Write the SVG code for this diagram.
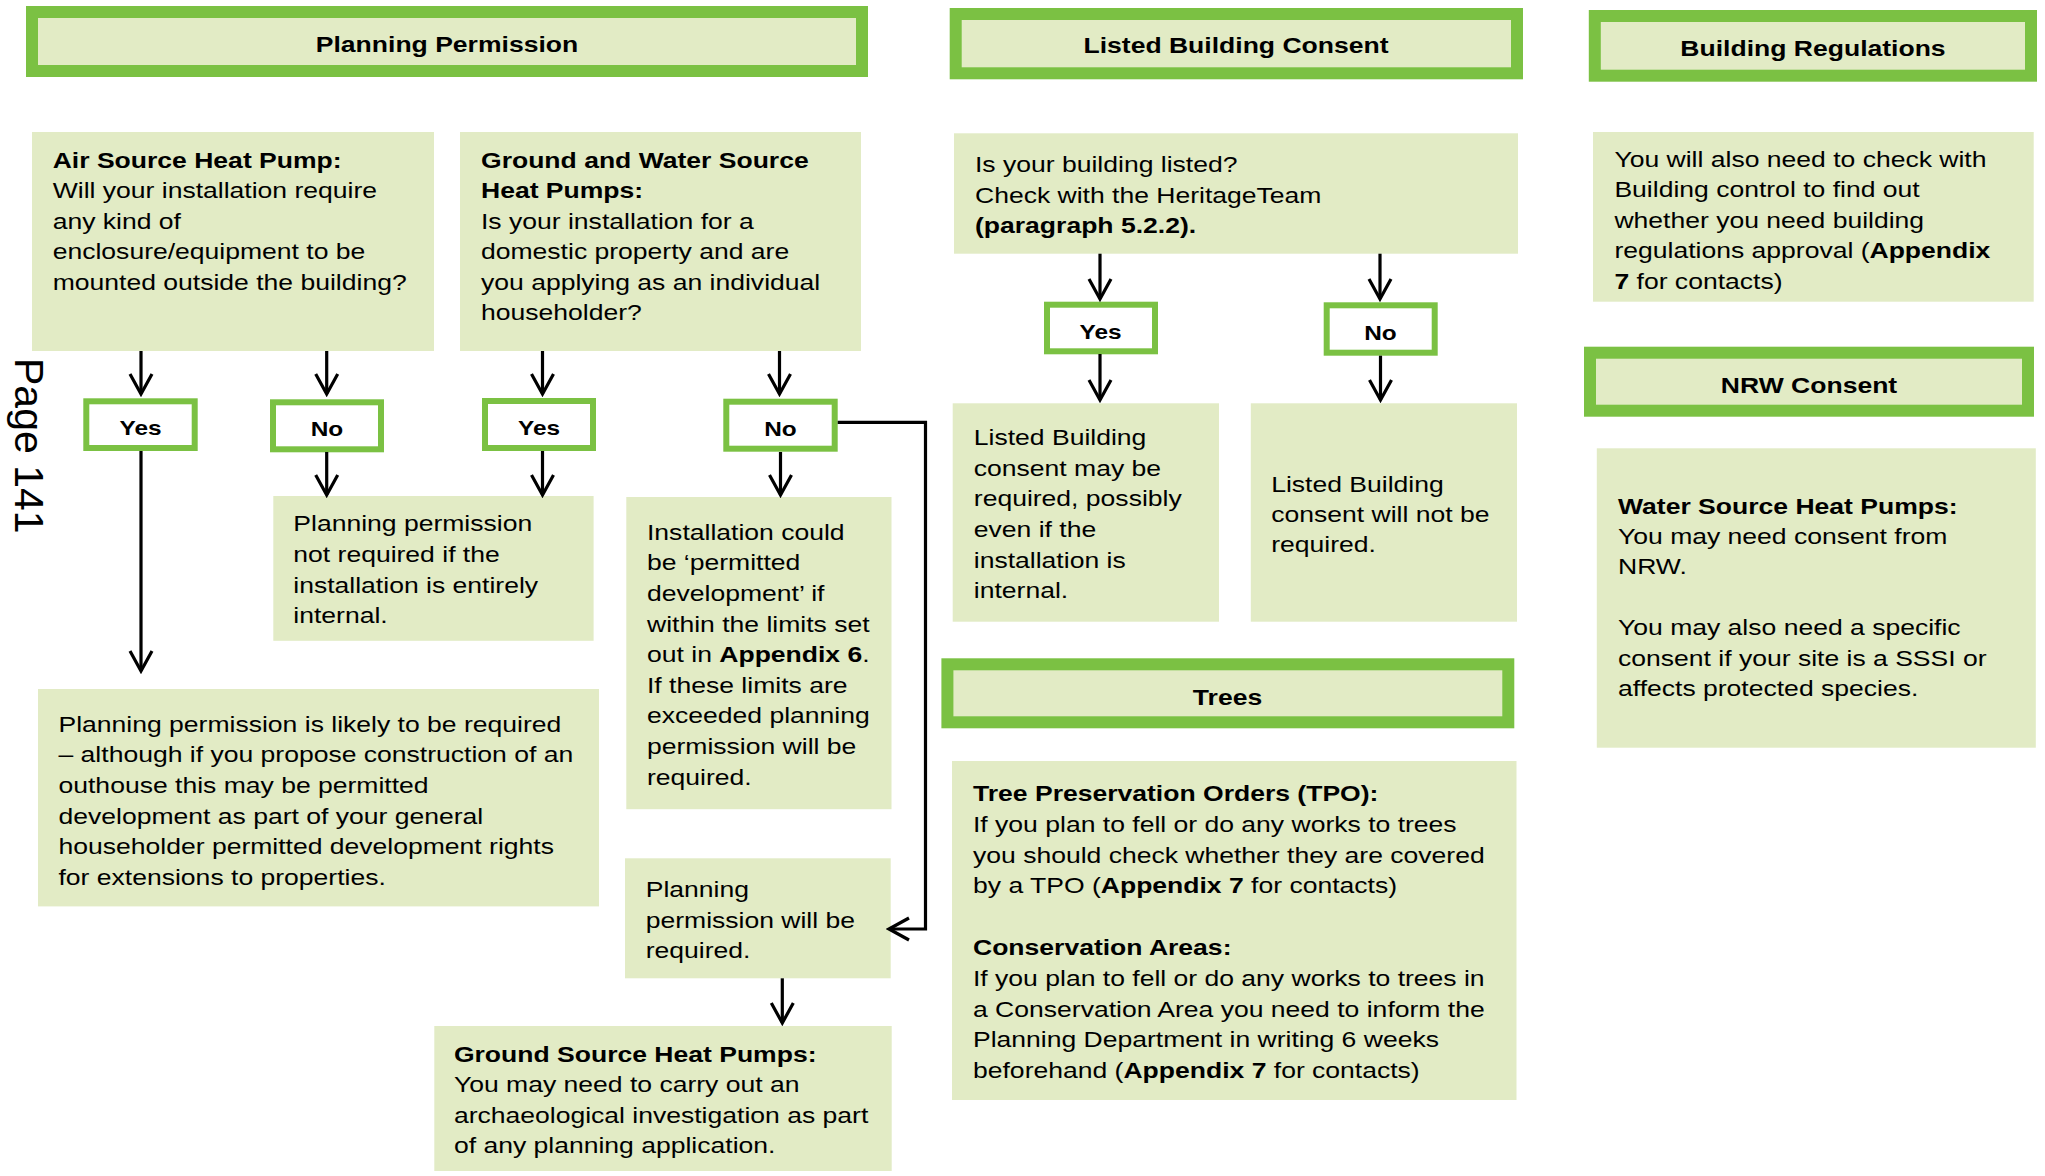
<svg xmlns="http://www.w3.org/2000/svg" width="2045" height="1176" viewBox="0 0 2045 1176">
  <style>
    text { font-family: "Liberation Sans", Arial, sans-serif; font-size: 22.3px; fill: #000; }
    .b { font-weight: bold; }
    .h { font-weight: bold; text-anchor: middle; }
    .yn { font-weight: bold; font-size: 20.5px; text-anchor: middle; }
    .page { font-size: 41px; }
    .frame { fill: #E2EBC5; stroke: #7BC143; stroke-width: 12; }
    .choice { fill: #FFFFFF; stroke: #7BC143; stroke-width: 6; }
    .box { fill: #E2EBC5; }
    .link { fill: none; stroke: #000; stroke-width: 3.2; marker-end: url(#arrow); }
  </style>
  <defs>
    <marker id="arrow" markerUnits="userSpaceOnUse" viewBox="-23 -14 26 28" markerWidth="26" markerHeight="28" refX="0" refY="0" orient="auto">
      <path d="M-20,-11 L0,0 L-20,11" fill="none" stroke="#000" stroke-width="3.2"/>
    </marker>
  </defs>

  <rect width="2045" height="1176" fill="#FFFFFF"/>

  <!-- page number, rotated -->
  <text class="page" transform="translate(15,358) rotate(90)">Page 141</text>

  <!-- section headers -->
  <g id="hdr-planning">
    <rect class="frame" x="32" y="12" width="830" height="59"/>
    <text class="h" transform="matrix(1.19 0 0 1 447 52)">Planning Permission</text>
  </g>
  <g id="hdr-listed">
    <rect class="frame" x="955.7" y="14" width="561.3" height="59.3"/>
    <text class="h" transform="matrix(1.19 0 0 1 1236 53.3)">Listed Building Consent</text>
  </g>
  <g id="hdr-buildregs">
    <rect class="frame" x="1594.8" y="16" width="436.2" height="59.7"/>
    <text class="h" transform="matrix(1.19 0 0 1 1813 56)">Building Regulations</text>
  </g>
  <g id="hdr-nrw">
    <rect class="frame" x="1590" y="352.7" width="438" height="58"/>
    <text class="h" transform="matrix(1.19 0 0 1 1809 393)">NRW Consent</text>
  </g>
  <g id="hdr-trees">
    <rect class="frame" x="947.4" y="664.3" width="560.9" height="58"/>
    <text class="h" transform="matrix(1.19 0 0 1 1227.5 705)">Trees</text>
  </g>

  <!-- planning permission questions -->
  <g id="q-air">
    <rect class="box" x="32" y="132" width="402" height="219"/>
    <text transform="matrix(1.19 0 0 1 52.7 167.7)">
      <tspan x="0" y="0" class="b">Air Source Heat Pump:</tspan>
      <tspan x="0" y="30.5">Will your installation require</tspan>
      <tspan x="0" y="61">any kind of</tspan>
      <tspan x="0" y="91.5">enclosure/equipment to be</tspan>
      <tspan x="0" y="122">mounted outside the building?</tspan>
    </text>
  </g>
  <g id="q-ground">
    <rect class="box" x="460" y="132" width="401" height="219"/>
    <text transform="matrix(1.19 0 0 1 481 167.7)">
      <tspan x="0" y="0" class="b">Ground and Water Source</tspan>
      <tspan x="0" y="30.5" class="b">Heat Pumps:</tspan>
      <tspan x="0" y="61">Is your installation for a</tspan>
      <tspan x="0" y="91.5">domestic property and are</tspan>
      <tspan x="0" y="122">you applying as an individual</tspan>
      <tspan x="0" y="152.5">householder?</tspan>
    </text>
  </g>

  <!-- yes / no choices -->
  <g id="c-air-yes">
    <rect class="choice" x="86.3" y="401.3" width="108.4" height="46.7"/>
    <text class="yn" transform="matrix(1.19 0 0 1 140.5 435)">Yes</text>
  </g>
  <g id="c-air-no">
    <rect class="choice" x="273" y="402.3" width="108" height="47"/>
    <text class="yn" transform="matrix(1.19 0 0 1 327 435.5)">No</text>
  </g>
  <g id="c-ground-yes">
    <rect class="choice" x="485" y="401" width="108" height="47"/>
    <text class="yn" transform="matrix(1.19 0 0 1 539 435)">Yes</text>
  </g>
  <g id="c-ground-no">
    <rect class="choice" x="726.3" y="401.7" width="108.4" height="47"/>
    <text class="yn" transform="matrix(1.19 0 0 1 780.5 435.5)">No</text>
  </g>

  <!-- planning outcomes -->
  <g id="o-internal">
    <rect class="box" x="273.3" y="496" width="320.3" height="144.8"/>
    <text transform="matrix(1.19 0 0 1 293.3 531.4)">
      <tspan x="0" y="0">Planning permission</tspan>
      <tspan x="0" y="30.6">not required if the</tspan>
      <tspan x="0" y="61.2">installation is entirely</tspan>
      <tspan x="0" y="91.8">internal.</tspan>
    </text>
  </g>
  <g id="o-likely">
    <rect class="box" x="38" y="689" width="561" height="217.4"/>
    <text transform="matrix(1.19 0 0 1 58.5 731.5)">
      <tspan x="0" y="0">Planning permission is likely to be required</tspan>
      <tspan x="0" y="30.7">– although if you propose construction of an</tspan>
      <tspan x="0" y="61.4">outhouse this may be permitted</tspan>
      <tspan x="0" y="92.1">development as part of your general</tspan>
      <tspan x="0" y="122.8">householder permitted development rights</tspan>
      <tspan x="0" y="153.5">for extensions to properties.</tspan>
    </text>
  </g>
  <g id="o-permitted">
    <rect class="box" x="626.3" y="497" width="265.2" height="312.2"/>
    <text transform="matrix(1.19 0 0 1 647 539.8)">
      <tspan x="0" y="0">Installation could</tspan>
      <tspan x="0" y="30.6">be ‘permitted</tspan>
      <tspan x="0" y="61.2">development’ if</tspan>
      <tspan x="0" y="91.8">within the limits set</tspan>
      <tspan x="0" y="122.4">out in <tspan class="b">Appendix 6</tspan>.</tspan>
      <tspan x="0" y="153">If these limits are</tspan>
      <tspan x="0" y="183.6">exceeded planning</tspan>
      <tspan x="0" y="214.2">permission will be</tspan>
      <tspan x="0" y="244.8">required.</tspan>
    </text>
  </g>
  <g id="o-required">
    <rect class="box" x="625" y="858.3" width="265.7" height="120"/>
    <text transform="matrix(1.19 0 0 1 645.7 897)">
      <tspan x="0" y="0">Planning</tspan>
      <tspan x="0" y="30.7">permission will be</tspan>
      <tspan x="0" y="61.4">required.</tspan>
    </text>
  </g>
  <g id="o-archaeology">
    <rect class="box" x="434.3" y="1026" width="457.4" height="145"/>
    <text transform="matrix(1.19 0 0 1 453.9 1061.7)">
      <tspan x="0" y="0" class="b">Ground Source Heat Pumps:</tspan>
      <tspan x="0" y="30.6">You may need to carry out an</tspan>
      <tspan x="0" y="61.2">archaeological investigation as part</tspan>
      <tspan x="0" y="91.8">of any planning application.</tspan>
    </text>
  </g>

  <!-- listed building consent -->
  <g id="q-listed">
    <rect class="box" x="954" y="133.3" width="564" height="120.4"/>
    <text transform="matrix(1.19 0 0 1 975 172.3)">
      <tspan x="0" y="0">Is your building listed?</tspan>
      <tspan x="0" y="30.5">Check with the HeritageTeam</tspan>
      <tspan x="0" y="61" class="b">(paragraph 5.2.2).</tspan>
    </text>
  </g>
  <g id="c-listed-yes">
    <rect class="choice" x="1047" y="304.7" width="108" height="46.6"/>
    <text class="yn" transform="matrix(1.19 0 0 1 1100.5 339)">Yes</text>
  </g>
  <g id="c-listed-no">
    <rect class="choice" x="1326.7" y="305.3" width="108" height="47.4"/>
    <text class="yn" transform="matrix(1.19 0 0 1 1380.5 339.5)">No</text>
  </g>
  <g id="o-listed-yes">
    <rect class="box" x="952.7" y="403.3" width="266.3" height="218.4"/>
    <text transform="matrix(1.19 0 0 1 973.8 445)">
      <tspan x="0" y="0">Listed Building</tspan>
      <tspan x="0" y="30.7">consent may be</tspan>
      <tspan x="0" y="61.4">required, possibly</tspan>
      <tspan x="0" y="92.1">even if the</tspan>
      <tspan x="0" y="122.8">installation is</tspan>
      <tspan x="0" y="153.5">internal.</tspan>
    </text>
  </g>
  <g id="o-listed-no">
    <rect class="box" x="1250.8" y="403.3" width="266.2" height="218.4"/>
    <text transform="matrix(1.19 0 0 1 1271.2 491.5)">
      <tspan x="0" y="0">Listed Building</tspan>
      <tspan x="0" y="30.5">consent will not be</tspan>
      <tspan x="0" y="61">required.</tspan>
    </text>
  </g>

  <!-- trees -->
  <g id="n-trees">
    <rect class="box" x="952" y="761" width="564.5" height="339"/>
    <text transform="matrix(1.19 0 0 1 973 801)">
      <tspan x="0" y="0" class="b">Tree Preservation Orders (TPO):</tspan>
      <tspan x="0" y="30.8">If you plan to fell or do any works to trees</tspan>
      <tspan x="0" y="61.6">you should check whether they are covered</tspan>
      <tspan x="0" y="92.4">by a TPO (<tspan class="b">Appendix 7</tspan> for contacts)</tspan>
      <tspan x="0" y="154" class="b">Conservation Areas:</tspan>
      <tspan x="0" y="184.8">If you plan to fell or do any works to trees in</tspan>
      <tspan x="0" y="215.6">a Conservation Area you need to inform the</tspan>
      <tspan x="0" y="246.4">Planning Department in writing 6 weeks</tspan>
      <tspan x="0" y="277.2">beforehand (<tspan class="b">Appendix 7</tspan> for contacts)</tspan>
    </text>
  </g>

  <!-- building regulations -->
  <g id="n-buildregs">
    <rect class="box" x="1593" y="132" width="440.7" height="169.7"/>
    <text transform="matrix(1.19 0 0 1 1614.4 166.7)">
      <tspan x="0" y="0">You will also need to check with</tspan>
      <tspan x="0" y="30.5">Building control to find out</tspan>
      <tspan x="0" y="61">whether you need building</tspan>
      <tspan x="0" y="91.5">regulations approval (<tspan class="b">Appendix</tspan></tspan>
      <tspan x="0" y="122"><tspan class="b">7</tspan> for contacts)</tspan>
    </text>
  </g>

  <!-- NRW consent -->
  <g id="n-nrw">
    <rect class="box" x="1596.8" y="448.3" width="439" height="299.4"/>
    <text transform="matrix(1.19 0 0 1 1618 513.5)">
      <tspan x="0" y="0" class="b">Water Source Heat Pumps:</tspan>
      <tspan x="0" y="30.5">You may need consent from</tspan>
      <tspan x="0" y="61">NRW.</tspan>
      <tspan x="0" y="122">You may also need a specific</tspan>
      <tspan x="0" y="152.5">consent if your site is a SSSI or</tspan>
      <tspan x="0" y="183">affects protected species.</tspan>
    </text>
  </g>

  <!-- connectors -->
  <g id="connectors">
    <line class="link" x1="141" y1="351" x2="141" y2="394"/>
    <line class="link" x1="326.7" y1="351" x2="326.7" y2="394"/>
    <line class="link" x1="542.5" y1="351" x2="542.5" y2="394"/>
    <line class="link" x1="779.5" y1="351" x2="779.5" y2="394"/>
    <line class="link" x1="141" y1="451" x2="141" y2="671"/>
    <line class="link" x1="326.7" y1="452" x2="326.7" y2="495"/>
    <line class="link" x1="542.5" y1="451" x2="542.5" y2="495"/>
    <line class="link" x1="780.5" y1="452" x2="780.5" y2="495"/>
    <polyline class="link" points="837.7,422.3 925.5,422.3 925.5,929 889,929"/>
    <line class="link" x1="782.3" y1="978.3" x2="782.3" y2="1023"/>
    <line class="link" x1="1100" y1="253.7" x2="1100" y2="299"/>
    <line class="link" x1="1380" y1="253.7" x2="1380" y2="299"/>
    <line class="link" x1="1100" y1="354" x2="1100" y2="400"/>
    <line class="link" x1="1380.5" y1="355.7" x2="1380.5" y2="400"/>
  </g>
</svg>
